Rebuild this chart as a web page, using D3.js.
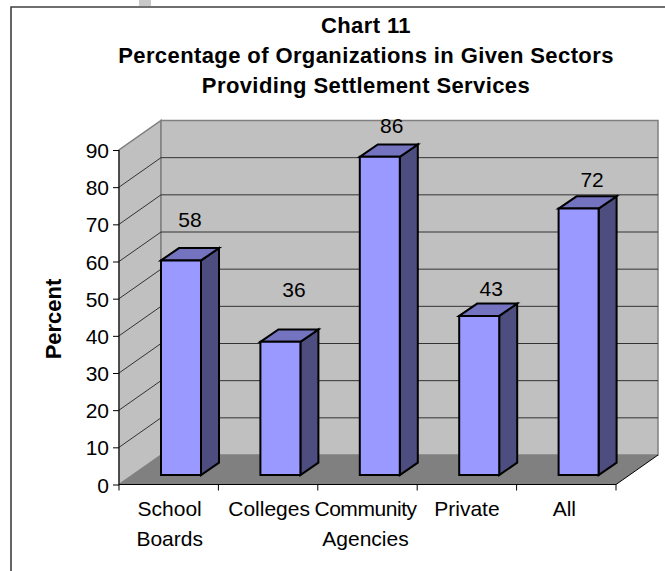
<!DOCTYPE html>
<html>
<head>
<meta charset="utf-8">
<script src="https://cdn.jsdelivr.net/npm/d3@7/dist/d3.min.js"></script>
<style>
html,body{margin:0;padding:0;background:#fff;}
svg{display:block;}
text{font-family:"Liberation Sans",Arial,sans-serif;fill:#000;}
</style>
</head>
<body>
<svg id="chart" width="665" height="571"></svg>
<script>
// Sector survey results
const categories = [["School","Boards"],["Colleges"],["Community","Agencies"],["Private"],["All"]];
const percentValues = [58,36,86,43,72];
const valueTicks = [0,10,20,30,40,50,60,70,80,90];
const titleLines = ["Chart 11","Percentage of Organizations in Given Sectors","Providing Settlement Services"];
// Height of each value label above its bar, in percentage points
const labelLift = [9,12.1,6.4,5.4,5.9];
const labelShift = [0,4.5,3,3,4.5];
const categoryShift = [1,1,-2,0,-2];

const svg = d3.select("#chart");

// Front-plane scales plus the oblique offsets of the box and of each bar
const y = d3.scaleLinear().domain([0,90]).range([484.5,150]);
const barHeight = d3.scaleLinear().domain([0,90]).range([0,333]);
const x = d3.scaleBand().domain(d3.range(categories.length)).range([119,616]);
const depth = {x:42,y:-29.5};
const barDepth = {x:18,y:-12.3};
const barInset = 42, barWidth = 40, barFloor = 9.5;
const bodySize = 21, titleSize = 22;

const poly = pts => "M"+pts.map(p=>p.join(",")).join("L")+"Z";

// Grey strip cut off by the top edge, then the outer frame
svg.append("rect").attr("x",139).attr("y",0).attr("width",12).attr("height",6).attr("fill","#c8c8c8");
svg.append("path").attr("d","M11,571V7H665").attr("fill","none").attr("stroke","#404040").attr("stroke-width",1.6);

const xL = x.range()[0], xR = x.range()[1], y0 = y(0), yT = y(90);

// Walls and floor
svg.append("path").attr("fill","#c0c0c0").attr("stroke","#808080").attr("stroke-width",1.5)
  .attr("d",poly([[xL,y0],[xL,yT],[xL+depth.x,yT+depth.y],[xL+depth.x,y0+depth.y]]));
svg.append("path").attr("fill","#c0c0c0").attr("stroke","#808080").attr("stroke-width",1.5)
  .attr("d",poly([[xL+depth.x,yT+depth.y],[xR+depth.x,yT+depth.y],[xR+depth.x,y0+depth.y],[xL+depth.x,y0+depth.y]]));
svg.append("path").attr("fill","#808080")
  .attr("d",poly([[xL,y0],[xL+depth.x,y0+depth.y],[xR+depth.x,y0+depth.y],[xR,y0]]));

// Gridlines run along the side wall and across the back wall
const grid = svg.append("g").attr("fill","none").attr("stroke","#333").attr("stroke-width",1);
valueTicks.filter(t=>t>0 && t<90).forEach(t=>{
  grid.append("path").attr("d",`M${xL},${y(t)}L${xL+depth.x},${y(t)+depth.y}H${xR+depth.x}`);
});

// Axes
const yAxis = svg.append("g").attr("transform",`translate(${xL},0)`)
  .call(d3.axisLeft(y).tickValues(valueTicks).tickSize(6).tickPadding(4));
yAxis.select(".domain").attr("stroke","#000").attr("d",`M0,${yT}V${y0}`);
yAxis.selectAll("text").attr("font-size",bodySize).attr("dy","0.36em")
  .style("font-family",'"Liberation Sans"');
yAxis.selectAll("line").attr("stroke","#000");

const axisBase = svg.append("g").attr("stroke","#000").attr("fill","none");
axisBase.append("path").attr("d",`M${xL},${y0}H${xR}L${xR+depth.x},${y0+depth.y}`);
d3.range(categories.length+1).forEach(i=>{
  const px = xL+i*x.step();
  axisBase.append("line").attr("x1",px).attr("x2",px).attr("y1",y0).attr("y2",y0+6);
});

// Bars: front, top and side faces, each with its value label
const bars = svg.append("g").attr("stroke","#000").attr("stroke-width",2).attr("stroke-linejoin","miter");
percentValues.forEach((v,i)=>{
  const l = x(i)+barInset, r = l+barWidth, b = y0-barFloor, t = b-barHeight(v);
  const dx = barDepth.x, dy = barDepth.y;
  bars.append("path").attr("fill","#4d4d80").attr("d",poly([[r,b],[r,t],[r+dx,t+dy],[r+dx,b+dy]]));
  bars.append("path").attr("fill","#7373bf").attr("d",poly([[l,t],[l+dx,t+dy],[r+dx,t+dy],[r,t]]));
  bars.append("path").attr("fill","#9999ff").attr("d",poly([[l,b],[l,t],[r,t],[r,b]]));
  svg.append("text").attr("x",l+barWidth/2+labelShift[i]+9).attr("y",t-barHeight(labelLift[i]))
    .attr("text-anchor","middle").attr("font-size",bodySize).text(v);
});

// Category labels
categories.forEach((lines,i)=>{
  lines.forEach((s,j)=>{
    svg.append("text").attr("x",x(i)+x.step()/2+categoryShift[i]).attr("y",516+j*30)
      .attr("text-anchor","middle").attr("font-size",bodySize)
      .attr("letter-spacing",s==="Community"?-0.45:0).text(s);
  });
});

// Title and axis title
titleLines.forEach((s,i)=>{
  svg.append("text").attr("x",366).attr("y",33+i*30).attr("text-anchor","middle")
    .attr("font-size",titleSize).attr("font-weight","bold").attr("letter-spacing",0.4).text(s);
});
svg.append("text").attr("transform","translate(61,319) rotate(-90)").attr("text-anchor","middle")
  .attr("font-size",titleSize).attr("font-weight","bold").text("Percent");
</script>
</body>
</html>
